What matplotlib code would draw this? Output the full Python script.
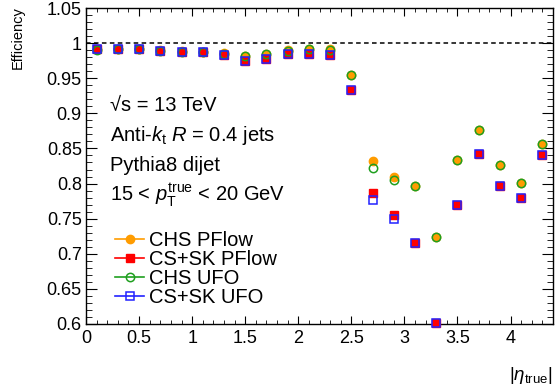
import numpy as np
import matplotlib
matplotlib.use("Agg")
import matplotlib.pyplot as plt
from matplotlib.ticker import MultipleLocator, FormatStrFormatter

plt.rcParams['font.family'] = ['Liberation Sans', 'DejaVu Sans']
plt.rcParams['mathtext.fontset'] = 'custom'
plt.rcParams['mathtext.rm'] = 'Liberation Sans'
plt.rcParams['mathtext.it'] = 'Liberation Sans:italic'

# bin centres in |eta_true|
eta = [0.1, 0.3, 0.5, 0.7, 0.9, 1.1, 1.3, 1.5, 1.7, 1.9, 2.1,
       2.3, 2.5, 2.7, 2.9, 3.1, 3.3, 3.5, 3.7, 3.9, 4.1, 4.3]

# efficiencies
chs_pflow = [0.991, 0.992, 0.992, 0.990, 0.989, 0.988, 0.986, 0.982, 0.985, 0.990, 0.992,
             0.991, 0.955, 0.832, 0.810, 0.796, 0.724, 0.834, 0.876, 0.827, 0.801, 0.857]
cssk_pflow = [0.991, 0.991, 0.991, 0.989, 0.987, 0.987, 0.983, 0.975, 0.977, 0.984, 0.985,
              0.983, 0.933, 0.787, 0.755, 0.716, 0.601, 0.770, 0.842, 0.796, 0.779, 0.841]
chs_ufo = [0.990, 0.991, 0.991, 0.989, 0.988, 0.987, 0.985, 0.981, 0.984, 0.989, 0.991,
           0.990, 0.955, 0.822, 0.805, 0.796, 0.724, 0.834, 0.876, 0.827, 0.801, 0.857]
cssk_ufo = [0.991, 0.991, 0.991, 0.989, 0.987, 0.987, 0.983, 0.975, 0.977, 0.984, 0.985,
            0.983, 0.933, 0.777, 0.750, 0.716, 0.601, 0.770, 0.842, 0.796, 0.779, 0.841]

labels = ["CHS PFlow", "CS+SK PFlow", "CHS UFO", "CS+SK UFO"]

W, H = 555, 389
fig = plt.figure(figsize=(W / 100, H / 100), dpi=100)
ax = fig.add_axes([86 / W, 1 - 324 / H, 467 / W, 316 / H])

orange = '#ff9c00'
red = '#ff0000'
green = '#1f9f1f'
blue = '#2222ff'

h1, = ax.plot(eta, chs_pflow, 'o', color=orange, ms=6, mec=orange, ls='-', lw=0,
              clip_on=False, zorder=3)
h2, = ax.plot(eta, cssk_pflow, 's', color=red, ms=6.2, mec=red, ls='-', lw=0,
              clip_on=False, zorder=4)
h3, = ax.plot(eta, chs_ufo, 'o', color=green, mfc='none', ms=6, mew=1.1, ls='-', lw=0,
              clip_on=False, zorder=5)
h4, = ax.plot(eta, cssk_ufo, 's', color=blue, mfc='none', ms=6.4, mew=1.1, ls='-', lw=0,
              clip_on=False, zorder=6)

ax.axhline(1.0, color='black', ls=(0, (3, 2.2)), lw=1.1, zorder=2)

ax.set_xlim(0, 4.4)
ax.set_ylim(0.6, 1.05)

ax.xaxis.set_major_locator(MultipleLocator(0.5))
ax.xaxis.set_minor_locator(MultipleLocator(0.1))
ax.yaxis.set_major_locator(MultipleLocator(0.05))
ax.yaxis.set_minor_locator(MultipleLocator(0.01))
ax.xaxis.set_major_formatter(FormatStrFormatter('%g'))
ax.yaxis.set_major_formatter(FormatStrFormatter('%g'))

ax.tick_params(which='both', direction='in', top=True, right=True, labelsize=13)
ax.tick_params(axis='x', which='major', length=6, pad=4)
ax.tick_params(axis='x', which='minor', length=3)
ax.tick_params(axis='y', which='major', length=8, pad=3)
ax.tick_params(axis='y', which='minor', length=4)
for s in ax.spines.values():
    s.set_linewidth(1.0)

fig.text(18 / W, 1 - 6 / H, 'Efficiency', rotation=90, ha='center', va='top', fontsize=10.5)
fig.text(553 / W, 1 - 386 / H, r'$|\eta_{\mathrm{true}}|$', ha='right', va='bottom', fontsize=13.5)

# ATLAS-style labels
fs = 14.5
fx = 110 / W
fig.text(fx, 1 - 111 / H, '√s = 13 TeV', fontsize=fs, va='baseline')
fig.text(fx, 1 - 141 / H, r'Anti-$k_{\mathrm{t}}$ $R$ = 0.4 jets', fontsize=fs, va='baseline')
fig.text(fx, 1 - 171 / H, 'Pythia8 dijet', fontsize=fs, va='baseline')
fig.text(fx, 1 - 201 / H, r'15 < $p_{\mathrm{T}}^{\mathrm{true}}$ < 20 GeV', fontsize=fs,
         va='baseline')

leg = ax.legend([h1, h2, h3, h4], labels, loc='upper left',
                bbox_to_anchor=(115 / W, 1 - 231 / H), bbox_transform=fig.transFigure,
                frameon=False, fontsize=fs, borderpad=0, borderaxespad=0,
                labelspacing=0.0, handlelength=1.45, handletextpad=0.22)
for lh, c in zip(leg.legend_handles, [orange, red, green, blue]):
    lh.set_linestyle('-')
    lh.set_linewidth(1.2)
    lh.set_color(c)

fig.savefig('out.png', dpi=100)
